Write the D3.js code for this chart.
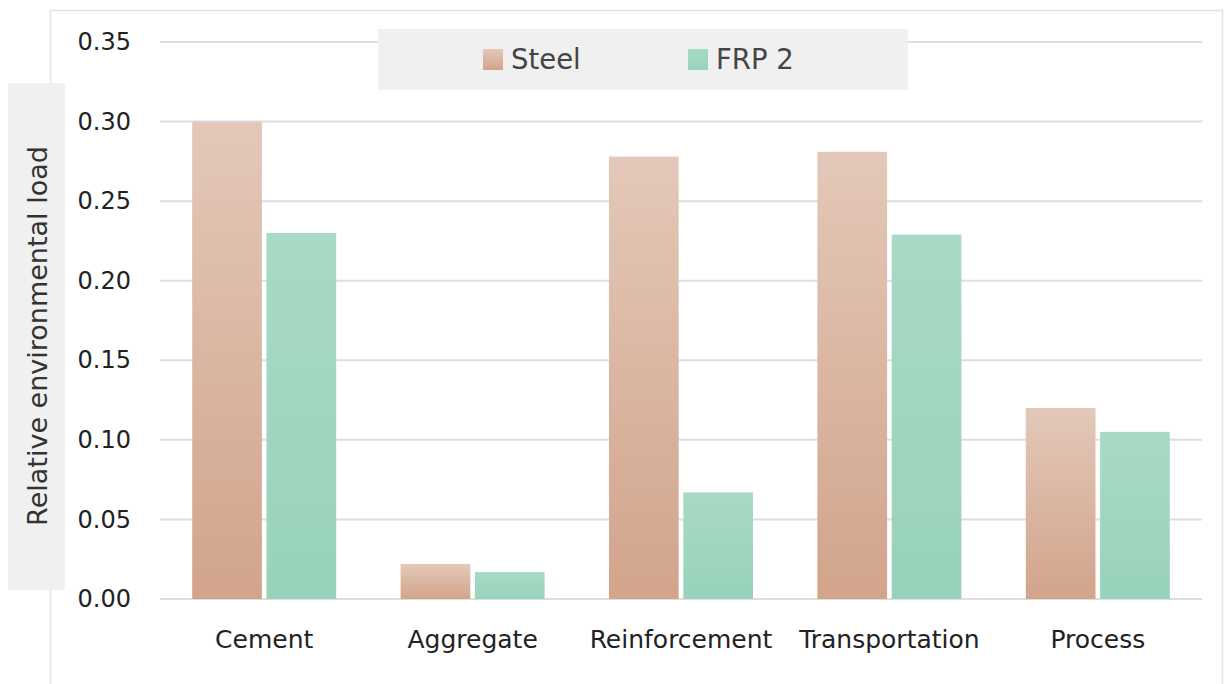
<!DOCTYPE html>
<html><head><meta charset="utf-8">
<script src="https://cdn.jsdelivr.net/npm/d3@7"></script>
<style>body{margin:0;background:#fff}svg{display:block;font-family:"DejaVu Sans",sans-serif}</style>
</head><body><svg id="c" width="1227" height="684"></svg>
<script>
const categories = ["Cement","Aggregate","Reinforcement","Transportation","Process"];
const seriesNames = ["Steel","FRP 2"];
const steelValues = [0.300,0.022,0.278,0.281,0.120];
const frpValues = [0.230,0.017,0.067,0.229,0.105];
const yTicks = [0,0.05,0.10,0.15,0.20,0.25,0.30,0.35];
const yLabel = "Relative environmental load";
const FONT = "'DejaVu Sans',sans-serif";

const svg = d3.select("#c");
const defs = svg.append("defs");
const g1 = defs.append("linearGradient").attr("id","gSteel").attr("x1",0).attr("y1",0).attr("x2",0).attr("y2",1);
g1.append("stop").attr("offset","0%").attr("stop-color","#e3c8b9");
g1.append("stop").attr("offset","100%").attr("stop-color","#d2a48b");
const g2 = defs.append("linearGradient").attr("id","gFrp").attr("x1",0).attr("y1",0).attr("x2",0).attr("y2",1);
g2.append("stop").attr("offset","0%").attr("stop-color","#a8dac5");
g2.append("stop").attr("offset","100%").attr("stop-color","#98d2ba");

// frame
svg.append("path").attr("d","M50.5,684 V10.5 H1222.5 V684").attr("fill","none").attr("stroke","#e2e2e2").attr("stroke-width",1.5);

const x = d3.scaleBand().domain(categories).range([160,1202]).paddingInner(0).paddingOuter(0);
const y = d3.scaleLinear().domain([0,0.35]).range([599,42]);
const xs = d3.scaleBand().domain(seriesNames).range([0,144]).paddingInner(0.0625);

// grid
svg.append("g").selectAll("line").data(yTicks).join("line")
  .attr("x1",160).attr("x2",1202).attr("y1",d=>y(d)).attr("y2",d=>y(d))
  .attr("stroke","#dedede").attr("stroke-width",2);

// y tick labels
const yAxis = d3.axisLeft(y).tickValues(yTicks).tickFormat(d3.format(".2f")).tickSize(0).tickPadding(0);
const ya = svg.append("g").attr("transform","translate(131,0)").call(yAxis);
ya.select(".domain").remove();
ya.selectAll("text").attr("font-size",24).attr("fill","#222").attr("font-family",FONT);

// y label box
svg.append("rect").attr("x",8).attr("y",83).attr("width",57).attr("height",507).attr("fill","#f0f0f0");
svg.append("text").attr("transform","translate(47,336) rotate(-90)").attr("text-anchor","middle")
  .attr("font-size",27).attr("fill","#333").attr("font-family",FONT).text(yLabel);

// bars
const data = categories.map((c,i)=>({c, vals:[steelValues[i],frpValues[i]]}));
const grp = svg.append("g").selectAll("g").data(data).join("g")
  .attr("transform",d=>`translate(${x(d.c)+x.bandwidth()/2-72},0)`);
grp.selectAll("rect").data(d=>d.vals.map((v,j)=>({v,s:seriesNames[j]}))).join("rect")
  .attr("x",d=>xs(d.s)).attr("width",xs.bandwidth())
  .attr("y",d=>y(d.v)).attr("height",d=>y(0)-y(d.v))
  .attr("fill",d=>d.s==="Steel"?"url(#gSteel)":"url(#gFrp)");

// x labels
const xAxis = d3.axisBottom(x).tickSize(0).tickPadding(0);
const xa = svg.append("g").attr("transform","translate(0,648)").call(xAxis);
xa.select(".domain").remove();
xa.selectAll("text").attr("font-size",25).attr("fill","#222").attr("dy",0).attr("font-family",FONT);

// legend
svg.append("rect").attr("x",378).attr("y",29).attr("width",530).attr("height",61).attr("fill","#f0f0f0");
const legX = [483,688];
const lg = svg.append("g").selectAll("g").data(seriesNames).join("g").attr("transform",(d,i)=>`translate(${legX[i]},49)`);
lg.append("rect").attr("width",20).attr("height",21).attr("fill",(d,i)=>i===0?"url(#gSteel)":"url(#gFrp)");
lg.append("text").attr("x",28).attr("y",20).attr("font-size",27.5).attr("fill","#444").attr("font-family",FONT).text(d=>d);
</script></body></html>
